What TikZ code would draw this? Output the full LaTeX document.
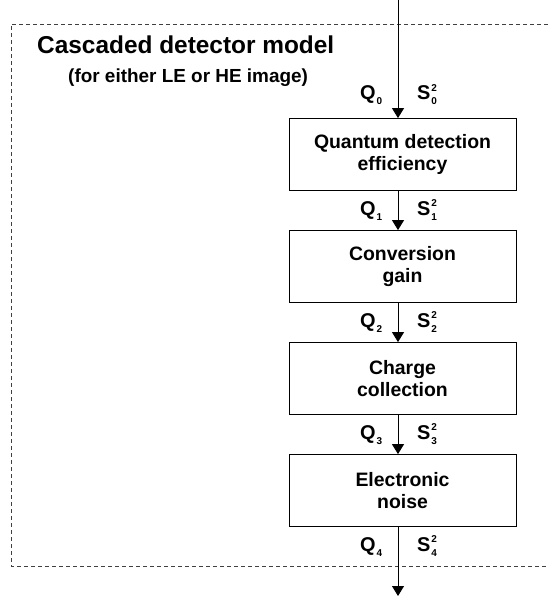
\documentclass[tikz,border=0pt]{standalone}
\usepackage{fontspec}
\setmainfont{Liberation Sans}
\usetikzlibrary{arrows.meta,positioning}

% small lowered / raised digits for the labels
\newcommand{\lowdigit}[1]{\raisebox{-5bp}{\fontsize{10}{10}\selectfont #1}}
\newcommand{\highdigit}[1]{\raisebox{8.5bp}{\fontsize{10}{10}\selectfont #1}}
\newcommand{\qnum}[1]{Q\hspace{1bp}\lowdigit{#1}}
\newcommand{\svar}[1]{S\hspace{1bp}\rlap{\highdigit{2}}\lowdigit{#1}}

\tikzset{
  stage/.style={draw, line width=0.8bp, minimum width=227bp, minimum height=72bp,
    align=center, font=\bfseries\fontsize{19.5}{22.5}\selectfont},
  flow/.style={line width=0.9bp, -{Triangle[length=10bp,width=12bp]}},
  qty/.style={font=\bfseries\fontsize{20}{22}\selectfont, inner sep=0pt},
  frame/.style={dash pattern=on 4bp off 3bp, line width=0.7bp, black!75}
}

\begin{document}
\begin{tikzpicture}[x=1bp, y=-1bp]
    \useasboundingbox (0,0) rectangle (548,599);

    % Dashed outline of the model (open on the right)
    \draw[frame] (548,24) -- (11,24) -- (11,566) -- (548,566);

    % Heading
    \node[anchor=base west, inner sep=0pt, font=\bfseries\fontsize{24.5}{28}\selectfont]
        (title) at (37,54) {Cascaded detector model};
    \node[anchor=base west, inner sep=0pt, font=\bfseries\fontsize{19}{22}\selectfont]
        (subtitle) at (68,83) {(for either LE or HE image)};

    % Stages
    \node[stage] (qde)    at (402.5,154.5) {Quantum detection\\efficiency};
    \node[stage] (gain)   at (402.5,266.5) {Conversion\\gain};
    \node[stage] (charge) at (402.5,378.5) {Charge\\collection};
    \node[stage] (noise)  at (402.5,490.5) {Electronic\\noise};

    % Signal path
    \coordinate (in)  at (398,0);
    \coordinate (out) at (398,596);
    \draw[flow] (in) -- (in |- qde.north);
    \draw[flow] (in |- qde.south) -- (in |- gain.north);
    \draw[flow] (in |- gain.south) -- (in |- charge.north);
    \draw[flow] (in |- charge.south) -- (in |- noise.north);
    \draw[flow] (in |- noise.south) -- (out);

    % Quanta and variance labels
    \node[qty, anchor=base west] (q0) at (360,100) {\qnum{0}};
    \node[qty, anchor=base west] (s0) at (417,100) {\svar{0}};
    \node[qty, anchor=base west] (q1) at (360,215) {\qnum{1}};
    \node[qty, anchor=base west] (s1) at (417,215) {\svar{1}};
    \node[qty, anchor=base west] (q2) at (360,327) {\qnum{2}};
    \node[qty, anchor=base west] (s2) at (417,327) {\svar{2}};
    \node[qty, anchor=base west] (q3) at (360,439) {\qnum{3}};
    \node[qty, anchor=base west] (s3) at (417,439) {\svar{3}};
    \node[qty, anchor=base west] (q4) at (360,551) {\qnum{4}};
    \node[qty, anchor=base west] (s4) at (417,551) {\svar{4}};
\end{tikzpicture}
\end{document}
